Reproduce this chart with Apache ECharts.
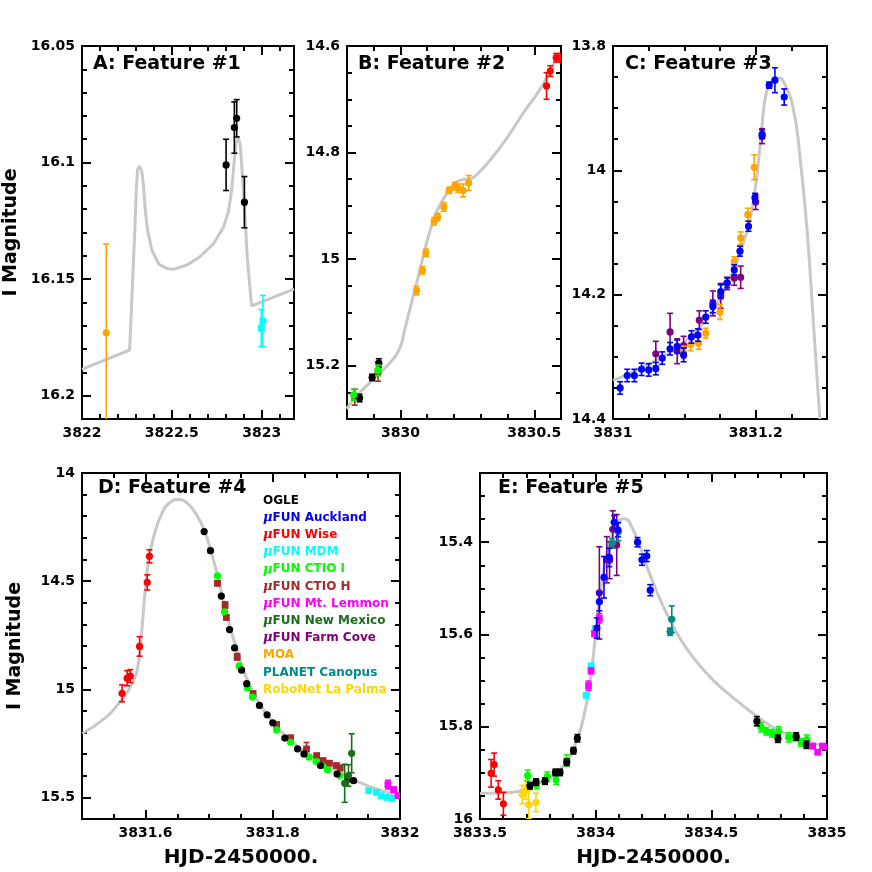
<!DOCTYPE html>
<html>
<head>
<meta charset="utf-8">
<script src="https://cdn.jsdelivr.net/npm/echarts@6/dist/echarts.min.js"></script>
<style>
  html, body { margin: 0; padding: 0; background: #fff; }
  #chart { width: 872px; height: 872px; }
</style>
</head>
<body>
<div id="chart"></div>
<script>
// ---- tick labels ----
const aXTicks = [3822, 3822.5, 3823]
const aYTicks = [16.05, 16.1, 16.15, 16.2]
const bXTicks = [3830, 3830.5]
const bYTicks = [14.6, 14.8, 15, 15.2]
const cXTicks = [3831, 3831.2]
const cYTicks = [13.8, 14, 14.2, 14.4]
const dXTicks = [3831.6, 3831.8, 3832]
const dYTicks = [14, 14.5, 15, 15.5]
const eXTicks = [3833.5, 3834, 3834.5, 3835]
const eYTicks = [15.4, 15.6, 15.8, 16]

// ---- panel A: [HJD, I mag, error] ----
const aMoa = [[3822.135, 16.173, 0.038]]
const aOgle = [[3822.802, 16.101, 0.011], [3822.848, 16.085, 0.011], [3822.861, 16.081, 0.008], [3822.904, 16.117, 0.011]]
const aMdm = [[3822.998, 16.171, 0.008], [3823.007, 16.168, 0.011]]
const aModel = [[3822.0, 16.1887], [3822.265, 16.1804], [3822.294, 16.129], [3822.302, 16.112], [3822.309, 16.1032],
  [3822.32, 16.1015], [3822.333, 16.104], [3822.343, 16.1103], [3822.352, 16.1204], [3822.365, 16.129],
  [3822.389, 16.1375], [3822.426, 16.1435], [3822.472, 16.1454], [3822.509, 16.1458], [3822.583, 16.144],
  [3822.657, 16.1404], [3822.731, 16.1349], [3822.787, 16.1278], [3822.815, 16.1211], [3822.833, 16.1118],
  [3822.846, 16.1003], [3822.857, 16.0918], [3822.869, 16.0892], [3822.88, 16.0918], [3822.891, 16.1035],
  [3822.904, 16.1189], [3822.92, 16.1407], [3822.944, 16.1615], [3823.18, 16.1543]]

// ---- panel B ----
const bCtioH = [[3829.829, 15.259, 0.015], [3829.916, 15.211, 0.018]]
const bCtioI = [[3829.825, 15.2545, 0.01], [3829.916, 15.2088, 0.01]]
const bOgle = [[3829.847, 15.2607, 0.007], [3829.894, 15.222, 0.006], [3829.919, 15.195, 0.008]]
const bMoa = [[3830.060, 15.059, 0.008], [3830.082, 15.021, 0.007], [3830.095, 14.988, 0.007], [3830.126, 14.929, 0.007],
  [3830.139, 14.921, 0.007], [3830.162, 14.902, 0.008], [3830.182, 14.871, 0.006], [3830.204, 14.863, 0.007],
  [3830.216, 14.867, 0.008], [3830.234, 14.871, 0.012], [3830.255, 14.857, 0.014]]
const bWise = [[3830.546, 14.675, 0.025], [3830.560, 14.647, 0.01], [3830.582, 14.622, 0.008], [3830.600, 14.622, 0.008]]
const bModel = [[3829.799, 15.281], [3829.834, 15.258], [3829.897, 15.226], [3829.960, 15.195], [3829.995, 15.17],
  [3830.016, 15.132], [3830.041, 15.082], [3830.067, 15.032], [3830.085, 14.995], [3830.108, 14.951],
  [3830.136, 14.91], [3830.167, 14.882], [3830.198, 14.86], [3830.23, 14.851], [3830.261, 14.849],
  [3830.286, 14.841], [3830.337, 14.813], [3830.399, 14.772], [3830.46, 14.725], [3830.513, 14.688],
  [3830.55, 14.656], [3830.588, 14.619]]

// ---- panel C ----
const cFarmCove = [[3831.060, 14.295, 0.02], [3831.080, 14.260, 0.03], [3831.090, 14.291, 0.02], [3831.099, 14.282, 0.015],
  [3831.121, 14.241, 0.015], [3831.140, 14.214, 0.02], [3831.151, 14.202, 0.02], [3831.160, 14.182, 0.01],
  [3831.170, 14.173, 0.012], [3831.179, 14.172, 0.018], [3831.200, 14.051, 0.012], [3831.209, 13.945, 0.012]]
const cMoa = [[3831.099, 14.293, 0.01], [3831.109, 14.280, 0.01], [3831.120, 14.278, 0.01], [3831.130, 14.262, 0.008],
  [3831.150, 14.228, 0.012], [3831.170, 14.147, 0.008], [3831.179, 14.109, 0.01], [3831.189, 14.071, 0.01],
  [3831.198, 13.995, 0.02]]
const cAuckland = [[3831.010, 14.350, 0.01], [3831.020, 14.330, 0.01], [3831.030, 14.330, 0.01], [3831.040, 14.320, 0.01],
  [3831.050, 14.321, 0.01], [3831.060, 14.319, 0.01], [3831.069, 14.302, 0.01], [3831.080, 14.287, 0.01],
  [3831.090, 14.283, 0.01], [3831.099, 14.297, 0.011], [3831.110, 14.268, 0.01], [3831.119, 14.265, 0.01],
  [3831.130, 14.236, 0.01], [3831.140, 14.219, 0.01], [3831.151, 14.195, 0.011], [3831.160, 14.181, 0.008],
  [3831.170, 14.160, 0.008], [3831.178, 14.130, 0.008], [3831.190, 14.090, 0.008], [3831.199, 14.044, 0.007],
  [3831.209, 13.942, 0.007], [3831.219, 13.863, 0.005], [3831.227, 13.855, 0.02], [3831.240, 13.882, 0.013]]
const cModel = [[3831.0, 14.338], [3831.019, 14.329], [3831.042, 14.316], [3831.066, 14.302], [3831.089, 14.286],
  [3831.112, 14.264], [3831.136, 14.232], [3831.159, 14.186], [3831.178, 14.133], [3831.192, 14.079],
  [3831.201, 14.015], [3831.208, 13.94], [3831.215, 13.875], [3831.225, 13.854], [3831.232, 13.851],
  [3831.241, 13.862], [3831.253, 13.902], [3831.262, 13.977], [3831.272, 14.095], [3831.281, 14.246],
  [3831.290, 14.4]]

// ---- panel D ----
const dWise = [[3831.563, 15.019, 0.039], [3831.571, 14.949, 0.035], [3831.576, 14.939, 0.03], [3831.5905, 14.802, 0.045],
  [3831.6026, 14.506, 0.035], [3831.606, 14.385, 0.03]]
const dCtioH = [[3831.713, 14.51, 0.01], [3831.725, 14.611, 0.015], [3831.727, 14.668, 0.01], [3831.744, 14.85, 0.015],
  [3831.769, 15.02, 0.01], [3831.806, 15.163, 0.01], [3831.828, 15.225, 0.012], [3831.853, 15.276, 0.03],
  [3831.869, 15.307, 0.01], [3831.879, 15.33, 0.01], [3831.889, 15.342, 0.01], [3831.9, 15.353, 0.01],
  [3831.906, 15.364, 0.012]]
const dCtioI = [[3831.713, 14.476, 0.006], [3831.724, 14.642, 0.006], [3831.747, 14.892, 0.006], [3831.760, 14.994, 0.006],
  [3831.768, 15.036, 0.006], [3831.806, 15.188, 0.006], [3831.828, 15.245, 0.006], [3831.857, 15.314, 0.006],
  [3831.868, 15.334, 0.006], [3831.877, 15.353, 0.006], [3831.886, 15.373, 0.006], [3831.905, 15.399, 0.006]]
const dOgle = [[3831.692, 14.271, 0.004], [3831.702, 14.359, 0.004], [3831.719, 14.569, 0.004], [3831.732, 14.724, 0.004],
  [3831.740, 14.809, 0.004], [3831.751, 14.912, 0.004], [3831.759, 14.974, 0.004], [3831.779, 15.075, 0.004],
  [3831.791, 15.118, 0.004], [3831.800, 15.155, 0.004], [3831.819, 15.226, 0.004], [3831.839, 15.276, 0.004],
  [3831.849, 15.299, 0.004], [3831.875, 15.353, 0.004], [3831.901, 15.392, 0.004], [3831.918, 15.415, 0.004],
  [3831.927, 15.423, 0.004]]
const dNewMexico = [[3831.913, 15.435, 0.088], [3831.919, 15.399, 0.05], [3831.924, 15.296, 0.09]]
const dMdm = [[3831.951, 15.469, 0.005], [3831.963, 15.477, 0.005], [3831.970, 15.492, 0.005], [3831.979, 15.5, 0.005],
  [3831.988, 15.505, 0.005]]
const dLemmon = [[3831.981, 15.441, 0.02], [3831.990, 15.464, 0.01], [3831.997, 15.492, 0.01]]
const dModel = [[3831.5005, 15.2045], [3831.532, 15.143], [3831.558, 15.065], [3831.579, 14.973], [3831.5895, 14.865],
  [3831.595, 14.694], [3831.599, 14.555], [3831.605, 14.401], [3831.613, 14.292], [3831.626, 14.184],
  [3831.639, 14.135], [3831.652, 14.122], [3831.665, 14.138], [3831.678, 14.184], [3831.692, 14.262],
  [3831.705, 14.386], [3831.715, 14.495], [3831.727, 14.649], [3831.743, 14.812], [3831.758, 14.943],
  [3831.779, 15.067], [3831.8, 15.152], [3831.831, 15.245], [3831.868, 15.322], [3831.919, 15.407],
  [3831.955, 15.453], [3831.997, 15.492]]

// ---- panel E ----
const eWise = [[3833.548, 15.901, 0.03], [3833.561, 15.882, 0.025], [3833.579, 15.937, 0.02], [3833.601, 15.967, 0.025]]
const eRoboNet = [[3833.683, 15.947, 0.02], [3833.699, 15.937, 0.02], [3833.711, 15.969, 0.03], [3833.742, 15.964, 0.02]]
const eCtioI = [[3833.706, 15.906, 0.012], [3833.745, 15.924, 0.01], [3833.791, 15.908, 0.01], [3833.829, 15.915, 0.01],
  [3833.875, 15.873, 0.012], [3834.715, 15.801, 0.01], [3834.738, 15.810, 0.008], [3834.762, 15.814, 0.008],
  [3834.791, 15.810, 0.01], [3834.834, 15.823, 0.01], [3834.859, 15.823, 0.008], [3834.888, 15.834, 0.008],
  [3834.913, 15.828, 0.01]]
const eOgle = [[3833.716, 15.928, 0.007], [3833.742, 15.92, 0.007], [3833.781, 15.918, 0.007], [3833.826, 15.899, 0.007],
  [3833.846, 15.899, 0.007], [3833.875, 15.877, 0.007], [3833.904, 15.852, 0.007], [3833.921, 15.825, 0.008],
  [3834.697, 15.788, 0.01], [3834.788, 15.826, 0.008], [3834.867, 15.821, 0.008], [3834.911, 15.839, 0.008]]
const eFarmCove = [[3834.016, 15.51, 0.1], [3834.048, 15.438, 0.05], [3834.060, 15.439, 0.04], [3834.074, 15.372, 0.04],
  [3834.091, 15.406, 0.066]]
const ePlanet = [[3834.072, 15.402, 0.01], [3834.098, 15.377, 0.02], [3834.322, 15.594, 0.008], [3834.329, 15.567, 0.029]]
const eMdm = [[3833.959, 15.732, 0.004], [3833.980, 15.668, 0.004], [3833.998, 15.587, 0.004]]
const eLemmon = [[3833.969, 15.711, 0.01], [3833.980, 15.679, 0.006], [3833.995, 15.598, 0.006], [3834.016, 15.565, 0.01],
  [3834.938, 15.842, 0.004], [3834.960, 15.855, 0.005], [3834.981, 15.842, 0.004], [3834.996, 15.844, 0.004]]
const eAuckland = [[3834.005, 15.586, 0.022], [3834.016, 15.529, 0.02], [3834.036, 15.476, 0.045], [3834.059, 15.433, 0.02],
  [3834.080, 15.357, 0.015], [3834.096, 15.373, 0.015], [3834.181, 15.400, 0.01], [3834.200, 15.438, 0.012],
  [3834.221, 15.430, 0.012], [3834.236, 15.504, 0.012]]
const eModel = [[3833.5, 15.944], [3833.572, 15.944], [3833.644, 15.942], [3833.716, 15.93], [3833.788, 15.913],
  [3833.861, 15.884], [3833.918, 15.83], [3833.954, 15.765], [3833.976, 15.7], [3833.991, 15.642],
  [3834.005, 15.569], [3834.026, 15.49], [3834.048, 15.425], [3834.077, 15.374], [3834.106, 15.351],
  [3834.127, 15.349], [3834.156, 15.367], [3834.192, 15.41], [3834.236, 15.472], [3834.293, 15.54],
  [3834.365, 15.609], [3834.438, 15.66], [3834.51, 15.7], [3834.582, 15.732], [3834.654, 15.761],
  [3834.726, 15.788], [3834.798, 15.81], [3834.87, 15.824], [3834.942, 15.836], [3835.0, 15.843]]

const FONT = 'DejaVu Sans'
const legendNames = ['OGLE', 'μFUN Auckland', 'μFUN Wise', 'μFUN MDM', 'μFUN CTIO I', 'μFUN CTIO H',
  'μFUN Mt. Lemmon', 'μFUN New Mexico', 'μFUN Farm Cove', 'MOA', 'PLANET Canopus', 'RoboNet La Palma']
const colors = {
  'OGLE': '#000000',
  'μFUN Auckland': '#0000ff',
  'μFUN Wise': '#ff0000',
  'μFUN MDM': '#00ffff',
  'μFUN CTIO I': '#00ff00',
  'μFUN CTIO H': '#a52a2a',
  'μFUN Mt. Lemmon': '#ff00ff',
  'μFUN New Mexico': '#1a6e1a',
  'μFUN Farm Cove': '#800080',
  'MOA': '#ffa500',
  'PLANET Canopus': '#008b8b',
  'RoboNet La Palma': '#ffd700'
}
const squares = ['μFUN CTIO H', 'μFUN MDM', 'μFUN Mt. Lemmon']

const panels = [
  {
    box: [82, 46, 212, 373], x: [3822, 3823.18], y: [16.05, 16.21], xTicks: aXTicks, yTicks: aYTicks,
    xMinor: 0.1, yMinor: 0.01, title: 'A: Feature #1', titlePos: [93, 55], yName: 61, model: aModel, smooth: false,
    sets: [['MOA', aMoa], ['OGLE', aOgle], ['μFUN MDM', aMdm]]
  },
  {
    box: [347, 46, 214, 373], x: [3829.8, 3830.6], y: [14.6, 15.3], xTicks: bXTicks, yTicks: bYTicks,
    xMinor: 0.1, yMinor: 0.05, title: 'B: Feature #2', titlePos: [358, 55], model: bModel, smooth: 0.5,
    sets: [['μFUN CTIO H', bCtioH], ['OGLE', bOgle], ['μFUN CTIO I', bCtioI], ['MOA', bMoa], ['μFUN Wise', bWise]]
  },
  {
    box: [613, 46, 214, 373], x: [3831, 3831.3], y: [13.8, 14.4], xTicks: cXTicks, yTicks: cYTicks,
    xMinor: 0.05, yMinor: 0.05, title: 'C: Feature #3', titlePos: [625, 55], model: cModel, smooth: 0.5,
    sets: [['μFUN Farm Cove', cFarmCove], ['MOA', cMoa], ['μFUN Auckland', cAuckland]]
  },
  {
    box: [82, 473, 318, 346], x: [3831.5, 3832], y: [14, 15.6], xTicks: dXTicks, yTicks: dYTicks,
    xMinor: 0.05, yMinor: 0.1, title: 'D: Feature #4', titlePos: [98, 479], yName: 57, xName: true, model: dModel, smooth: 0.5,
    sets: [['μFUN Wise', dWise], ['μFUN CTIO H', dCtioH], ['μFUN CTIO I', dCtioI], ['OGLE', dOgle],
      ['μFUN New Mexico', dNewMexico], ['μFUN MDM', dMdm], ['μFUN Mt. Lemmon', dLemmon]]
  },
  {
    box: [480, 473, 347, 346], x: [3833.5, 3835], y: [15.25, 16], xTicks: eXTicks, yTicks: eYTicks,
    xMinor: 0.1, yMinor: 0.05, title: 'E: Feature #5', titlePos: [498, 479], xName: true, model: eModel, smooth: 0.5,
    sets: [['μFUN Wise', eWise], ['RoboNet La Palma', eRoboNet], ['μFUN CTIO I', eCtioI], ['OGLE', eOgle],
      ['μFUN Farm Cove', eFarmCove], ['PLANET Canopus', ePlanet], ['μFUN MDM', eMdm], ['μFUN Mt. Lemmon', eLemmon],
      ['μFUN Auckland', eAuckland]]
  }
]

function minorTicks (min, max, step, majors) {
  const out = []
  for (let k = Math.ceil(min / step - 1e-6); k * step <= max + 1e-9; k++) {
    const v = +(k * step).toFixed(6)
    if (v > min && v < max && !majors.some(m => Math.abs(m - v) < 1e-6)) out.push(v)
  }
  return out
}

function makeAxis (gridIndex, position, range, ticks, len, labels, inverse) {
  return {
    type: 'value',
    gridIndex: gridIndex,
    position: position,
    min: range[0],
    max: range[1],
    inverse: inverse,
    axisLine: { show: false, onZero: false },
    splitLine: { show: false },
    axisTick: { show: true, inside: true, length: len, customValues: ticks, lineStyle: { color: '#000', width: 2 } },
    axisLabel: {
      show: labels,
      customValues: ticks,
      formatter: v => String(v),
      margin: 7,
      fontFamily: FONT,
      fontWeight: 'bold',
      fontSize: 14,
      color: '#000'
    }
  }
}

function errRender (color, square) {
  return function (params, api) {
    const x = api.value(0)
    const y = api.value(1)
    const e = api.value(2)
    const c = api.coord([x, y])
    const hi = api.coord([x, y - e])
    const lo = api.coord([x, y + e])
    const cap = 3
    const stroke = { stroke: color, lineWidth: 1.6 }
    const dot = square
      ? { type: 'rect', shape: { x: c[0] - 3.4, y: c[1] - 3.4, width: 6.8, height: 6.8 }, style: { fill: color } }
      : { type: 'circle', shape: { cx: c[0], cy: c[1], r: 3.6 }, style: { fill: color } }
    return {
      type: 'group',
      children: [
        { type: 'line', shape: { x1: c[0], y1: hi[1], x2: c[0], y2: lo[1] }, style: stroke },
        { type: 'line', shape: { x1: c[0] - cap, y1: hi[1], x2: c[0] + cap, y2: hi[1] }, style: stroke },
        { type: 'line', shape: { x1: c[0] - cap, y1: lo[1], x2: c[0] + cap, y2: lo[1] }, style: stroke },
        dot
      ]
    }
  }
}

const grids = []
const xAxes = []
const yAxes = []
const titles = []
const series = []

panels.forEach((p, i) => {
  grids.push({
    left: p.box[0], top: p.box[1], width: p.box[2], height: p.box[3],
    show: true, borderColor: '#000', borderWidth: 2, backgroundColor: 'transparent',
    containLabel: false, outerBoundsMode: 'none'
  })
  const xMinors = minorTicks(p.x[0], p.x[1], p.xMinor, p.xTicks)
  const yMinors = minorTicks(p.y[0], p.y[1], p.yMinor, p.yTicks)

  const xMain = makeAxis(i, 'bottom', p.x, p.xTicks, 9, true, false)
  if (p.xName) {
    xMain.name = 'HJD-2450000.'
    xMain.nameLocation = 'middle'
    xMain.nameGap = 29
    xMain.nameTextStyle = { fontFamily: FONT, fontWeight: 'bold', fontSize: 20, color: '#000' }
  }
  xAxes.push(xMain)
  xAxes.push(makeAxis(i, 'bottom', p.x, xMinors, 5, false, false))
  xAxes.push(makeAxis(i, 'top', p.x, p.xTicks, 9, false, false))
  xAxes.push(makeAxis(i, 'top', p.x, xMinors, 5, false, false))

  const yMain = makeAxis(i, 'left', p.y, p.yTicks, 9, true, true)
  if (p.yName) {
    yMain.name = 'I Magnitude'
    yMain.nameLocation = 'middle'
    yMain.nameGap = p.yName
    yMain.nameTextStyle = { fontFamily: FONT, fontWeight: 'bold', fontSize: 19, color: '#000' }
  }
  yAxes.push(yMain)
  yAxes.push(makeAxis(i, 'left', p.y, yMinors, 5, false, true))
  yAxes.push(makeAxis(i, 'right', p.y, p.yTicks, 9, false, true))
  yAxes.push(makeAxis(i, 'right', p.y, yMinors, 5, false, true))

  titles.push({
    text: p.title, left: p.titlePos[0], top: p.titlePos[1], padding: 0,
    textStyle: { fontFamily: FONT, fontWeight: 'bold', fontSize: 19, color: '#000' }
  })

  series.push({
    type: 'line',
    name: 'model ' + p.title,
    xAxisIndex: 4 * i,
    yAxisIndex: 4 * i,
    data: p.model,
    showSymbol: false,
    smooth: p.smooth,
    silent: true,
    z: 1,
    lineStyle: { color: '#c8c8c8', width: 3 }
  })

  p.sets.forEach(([name, data]) => {
    series.push({
      type: 'custom',
      name: name,
      xAxisIndex: 4 * i,
      yAxisIndex: 4 * i,
      data: data,
      encode: { x: 0, y: 1 },
      clip: true,
      z: 3,
      itemStyle: { color: colors[name] },
      renderItem: errRender(colors[name], squares.includes(name))
    })
  })
})

const chart = echarts.init(document.getElementById('chart'), null, { renderer: 'canvas' })
chart.setOption({
  animation: false,
  backgroundColor: '#fff',
  title: titles,
  grid: grids,
  xAxis: xAxes,
  yAxis: yAxes,
  legend: {
    orient: 'vertical',
    left: 258,
    top: 494,
    padding: 0,
    itemGap: 4.2,
    itemWidth: 0,
    itemHeight: 13,
    icon: 'none',
    selectedMode: false,
    data: legendNames.map(n => ({ name: n, textStyle: { color: colors[n] } })),
    formatter: n => n.replace('μ', '{mu|μ}'),
    textStyle: {
      fontFamily: FONT,
      fontWeight: 'bold',
      fontSize: 12,
      lineHeight: 13,
      rich: { mu: { fontFamily: 'DejaVu Serif', fontStyle: 'italic', fontWeight: 'bold', fontSize: 13, lineHeight: 13 } }
    }
  },
  series: series
})
</script>
</body>
</html>
